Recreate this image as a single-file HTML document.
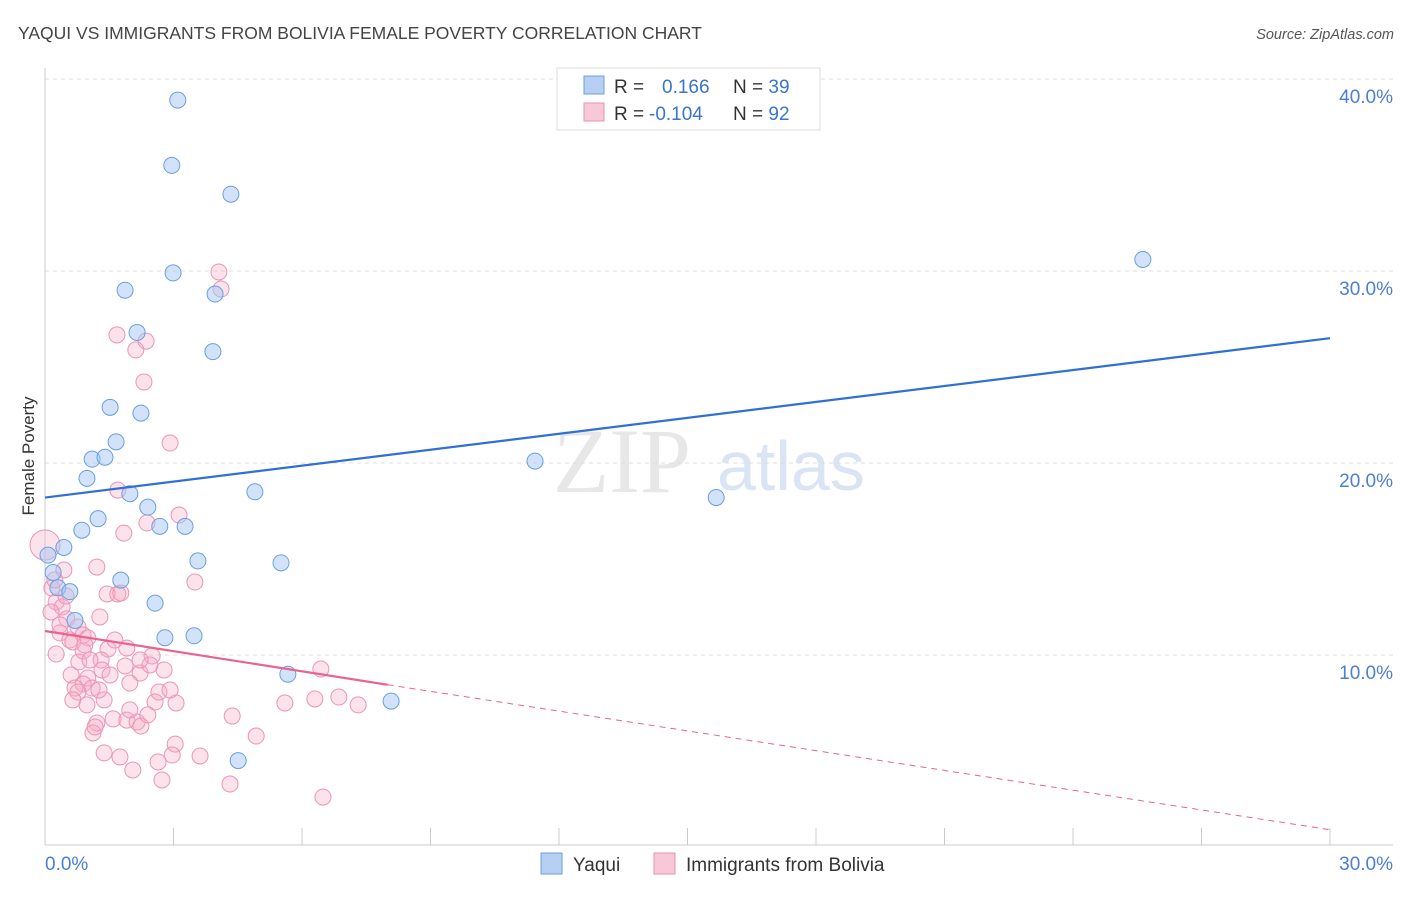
<!DOCTYPE html>
<html><head><meta charset="utf-8"><style>
body{margin:0;background:#fff;font-family:"Liberation Sans",sans-serif}
</style></head><body>
<svg id="c" width="1406" height="892" xmlns="http://www.w3.org/2000/svg" font-family="Liberation Sans, sans-serif">
<text x="18" y="39" font-size="17.5" fill="#444">YAQUI VS IMMIGRANTS FROM BOLIVIA FEMALE POVERTY CORRELATION CHART</text>
<text x="1394" y="39" font-size="14.5" fill="#555" font-style="italic" text-anchor="end">Source: ZipAtlas.com</text>
<text x="0" y="0" transform="translate(34,456) rotate(-90)" font-size="17" fill="#333" text-anchor="middle">Female Poverty</text>
<g><text x="553" y="492" font-size="92" fill="#ddd" font-family="Liberation Serif, serif" opacity="0.7">ZIP</text><text x="717" y="490" font-size="70" fill="#c9daf0" opacity="0.7">atlas</text></g>
<g id="grid"></g><g id="marks"></g>
<g>
<rect x="557" y="68" width="263" height="62" fill="#fff" stroke="#ddd"/>
<rect x="584" y="76" width="20" height="18" fill="#b6cff2" stroke="#6a9fe0"/>
<rect x="584" y="103" width="20" height="18" fill="#f9c8d8" stroke="#e890b0"/>
<text x="614" y="93" font-size="19" fill="#333">R = <tspan x="662" fill="#3a74d0">0.166</tspan><tspan x="733" fill="#333">N = </tspan><tspan fill="#3a74d0">39</tspan></text>
<text x="614" y="120" font-size="19" fill="#333">R = <tspan x="649" fill="#3a74d0">-0.104</tspan><tspan x="733" fill="#333">N = </tspan><tspan fill="#3a74d0">92</tspan></text>
</g>
<g>
<rect x="541" y="853" width="21" height="21" fill="#b6cff2" stroke="#6a9fe0"/>
<text x="573" y="871" font-size="19" fill="#333">Yaqui</text>
<rect x="654" y="853" width="21" height="21" fill="#f9c8d8" stroke="#e890b0"/>
<text x="686" y="871" font-size="19" fill="#333">Immigrants from Bolivia</text>
</g>
</svg>
<script>
const yTicks=[10,20,30,40];
const yTickLabels=["10.0%","20.0%","30.0%","40.0%"];
const xTickLabels=["0.0%","30.0%"];
const blueX=[3.10,2.96,4.34,25.63,2.99,1.87,3.97,2.15,3.92,1.52,2.24,1.66,1.10,1.40,0.98,11.44,4.90,1.98,15.67,2.40,1.24,2.68,3.27,0.86,0.44,0.07,3.57,5.51,0.19,1.77,0.30,0.58,2.57,0.70,2.80,3.48,5.67,8.08,4.51];
const blueY=[38.9,35.5,34.0,30.6,29.9,29.0,28.8,26.8,25.8,22.9,22.6,21.1,20.2,20.3,19.2,20.1,18.5,18.4,18.2,17.7,17.1,16.7,16.7,16.5,15.6,15.2,14.9,14.8,14.3,13.9,13.5,13.3,12.7,11.8,10.9,11.0,9.0,7.6,4.5];
const pinkX=[4.06,4.11,1.68,2.36,2.12,2.31,2.92,1.70,3.13,2.38,1.84,0,1.21,0.44,3.50,0.16,1.45,1.70,1.77,0.26,0.40,1.28,0.51,0.77,0.89,0.35,0.58,1.00,0.65,1.91,1.47,2.50,0.89,0.26,0.79,1.31,1.87,2.78,6.44,1.33,0.61,1.52,2.22,1.00,0.89,0.70,1.98,1.10,2.66,0.77,6.86,6.30,5.60,7.31,0.65,0.98,2.57,3.06,4.37,1.21,1.59,1.91,2.15,2.24,1.12,1.17,4.93,3.04,1.38,1.75,3.62,2.97,2.64,2.05,2.73,4.32,6.49,0.14,0.35,0.93,1.38,2.40,0.23,1.05,1.98,0.49,1.63,2.92,1.26,2.45,2.22];
const pinkY=[29.95,29.06,26.67,26.35,25.89,24.22,21.04,18.59,17.29,16.88,16.35,15.73,14.58,14.43,13.80,13.49,13.18,13.18,13.23,12.76,12.50,11.98,11.88,11.46,11.04,11.15,10.78,10.89,10.68,10.36,10.31,9.95,10.21,10.05,9.64,9.74,9.43,9.22,9.27,9.22,8.96,8.96,9.06,8.80,8.49,8.28,8.54,8.28,8.07,8.07,7.81,7.71,7.50,7.40,7.66,7.40,7.55,7.50,6.82,6.46,6.67,6.61,6.51,6.30,5.94,6.25,5.78,5.36,4.90,4.69,4.74,4.79,4.43,4.01,3.49,3.28,2.60,12.24,11.56,10.52,7.66,6.88,13.91,9.74,7.14,13.07,10.78,8.18,8.18,9.48,9.74];
const blueTrend=[18.2,26.5];
const pinkTrend=[11.25,8.45,0.9];
const pinkSolidEnd=8.0;
const X=v=>45+v/30*1285, Y=v=>847-v*19.2;
const NS="http://www.w3.org/2000/svg";
const g=document.getElementById('grid'), m=document.getElementById('marks');
function mk(p,tag,a){const e=document.createElementNS(NS,tag);for(const k in a)e.setAttribute(k,a[k]);p.appendChild(e);return e;}
yTicks.forEach((t,i)=>{
 const l=mk(g,'line',{x1:45,x2:1393,y1:Y(t),y2:Y(t),stroke:'#ddd','stroke-dasharray':'4,4'});
 
 
 const tx=mk(g,'text',{x:1393,y:Y(t)+24,'font-size':19,fill:'#4a7fd4','text-anchor':'end'});tx.textContent=yTickLabels[i];
 
 
});
const ax=mk(g,'line',{x1:45,x2:45,y1:68,y2:845,stroke:'#ccc'});


const bx=mk(g,'line',{x1:45,x2:1393,y1:845,y2:845,stroke:'#ccc'});


for(let i=0;i<=10;i++){const t=mk(g,'line',{x1:X(i*3),x2:X(i*3),y1:828,y2:845,stroke:'#ccc'});
 
 }
[[0,'start'],[30,'end']].forEach((a,i)=>{const t=mk(g,'text',{x:i?1393:45,y:870,'font-size':19,fill:'#4a7fd4','text-anchor':a[1]});t.textContent=xTickLabels[i];
 
 });
pinkX.forEach((v,i)=>{const c=mk(m,'circle',{cx:X(v),cy:Y(pinkY[i]),r:i==11?15:8,fill:'rgba(246,172,198,0.35)',stroke:'#eb95b5','stroke-width':1});
 
 });
blueX.forEach((v,i)=>{const c=mk(m,'circle',{cx:X(v),cy:Y(blueY[i]),r:8,fill:'rgba(165,198,242,0.5)',stroke:'#6a9fe0','stroke-width':1});
 
 });
const bl=mk(m,'line',{x1:X(0),y1:Y(blueTrend[0]),x2:X(30),y2:Y(blueTrend[1]),stroke:'#2f6fd6','stroke-width':2.2});


const pl=mk(m,'line',{x1:X(0),y1:Y(pinkTrend[0]),x2:X(pinkSolidEnd),y2:Y(pinkTrend[1]),stroke:'#e8648f','stroke-width':2.2});


const pd=mk(m,'line',{x1:X(pinkSolidEnd),y1:Y(pinkTrend[1]),x2:X(30),y2:Y(pinkTrend[2]),stroke:'#e8648f','stroke-width':1,'stroke-dasharray':'6,5'});


</script>
</body></html>
